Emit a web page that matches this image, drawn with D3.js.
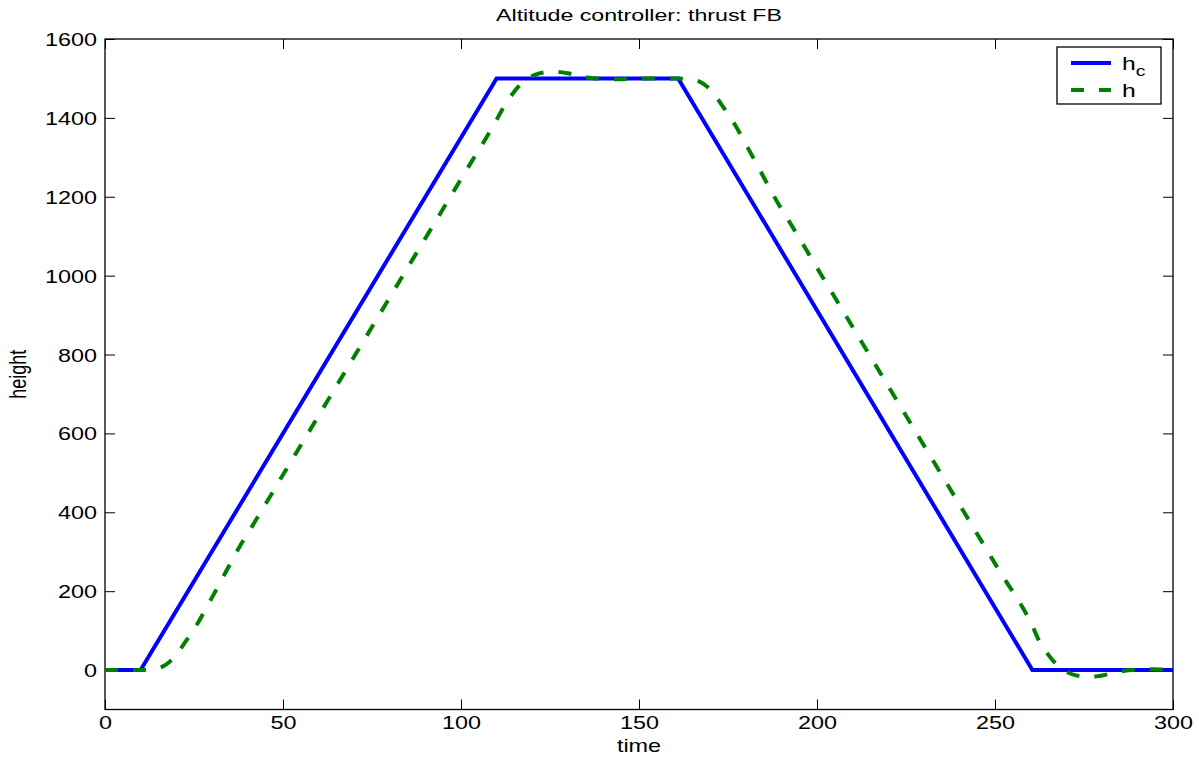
<!DOCTYPE html>
<html>
<head>
<meta charset="utf-8">
<script src="https://cdn.jsdelivr.net/npm/d3@7"></script>
<style>
  html, body { margin: 0; padding: 0; background: #fff; }
  svg { display: block; }
  text { font-family: "Liberation Sans", Arial, Helvetica, sans-serif; fill: #000; }
</style>
</head>
<body>
<div id="chart"></div>
<script>
// ---- data ----
const title = "Altitude controller: thrust FB";
const xLabel = "time";
const yLabel = "height";
const xTicks = [0, 50, 100, 150, 200, 250, 300];
const yTicks = [0, 200, 400, 600, 800, 1000, 1200, 1400, 1600];

// commanded height h_c
const hcTime  = [0, 10, 110, 161, 260.5, 300];
const hcValue = [0, 0, 1500, 1500, 0, 0];

// actual height h
const hTime = [
  0, 10, 12, 14, 16, 18, 20, 22, 24, 26, 28, 30, 32, 34, 36, 38, 40,
  50, 60, 70, 80, 90, 100, 110,
  112, 114, 116, 118, 120, 122, 124, 126, 128, 130, 132, 134, 136, 138, 140, 144, 148, 152, 161,
  163, 165, 167, 169, 171, 173, 175, 177, 179, 181, 183, 185, 187, 189, 191,
  201, 211, 221, 231, 241, 251, 260.5,
  262.5, 264.5, 266.5, 268.5, 270.5, 272.5, 274.5, 276.5, 278.5, 280.5, 282.5, 284.5, 286.5, 288.5, 290.5, 294.5, 298.5, 300
];
const hValue = [
  0, 0, 1, 3, 8, 20, 38, 64, 90, 118, 150, 183, 216, 250, 283, 316, 345,
  495, 645, 795, 945, 1095, 1245, 1395,
  1428, 1455, 1478, 1494, 1506, 1513, 1516, 1517, 1516, 1513, 1509, 1505, 1502, 1500, 1499, 1498, 1499, 1500, 1500,
  1499, 1497, 1492, 1480, 1462, 1436, 1410, 1382, 1350, 1317, 1284, 1250, 1217, 1184, 1155,
  1005, 855, 705, 555, 405, 255, 112,
  72, 45, 22, 6, -6, -13, -16, -17, -16, -13, -9, -5, -2, 0, 1, 2, 1, 1
];

const legendLabels = ["h", "h"];
const legendSubs = ["c", ""];

// ---- layout ----
const W = 1199, H = 761;
const mLeft = 105, mRight = 1173, mTop = 39, mBottom = 709.5;
const SX = 1.3;   // horizontal stretch of the reference's lettering

const svg = d3.select("#chart").append("svg")
  .attr("width", W).attr("height", H);

const x = d3.scaleLinear().domain([0, 300]).range([mLeft, mRight]);
const y = d3.scaleLinear().domain([-100, 1600]).range([mBottom, mTop]);

svg.append("clipPath").attr("id", "clip")
  .append("rect").attr("x", mLeft).attr("y", mTop)
  .attr("width", mRight - mLeft).attr("height", mBottom - mTop);

const tickLen = 10;

const xAxisB = d3.axisBottom(x).tickValues(xTicks).tickSize(-tickLen).tickFormat(d3.format("d"));
const xAxisT = d3.axisTop(x).tickValues(xTicks).tickSize(-tickLen).tickFormat("");
const yAxisL = d3.axisLeft(y).tickValues(yTicks).tickSize(-tickLen).tickFormat(d3.format("d"));
const yAxisR = d3.axisRight(y).tickValues(yTicks).tickSize(-tickLen).tickFormat("");

function styleAxis(g) {
  g.select(".domain").remove();
  g.selectAll(".tick line").attr("stroke", "#000").attr("stroke-width", 1);
  g.selectAll(".tick text").attr("font-size", 18).attr("fill", "#000")
    .style("font-family", "'Liberation Sans', Arial, Helvetica, sans-serif");
}

const gxb = svg.append("g").attr("transform", `translate(0,${mBottom})`).call(xAxisB).call(styleAxis);
gxb.selectAll(".tick text")
  .attr("x", 0).attr("y", 0).attr("dy", null)
  .attr("text-anchor", "middle")
  .attr("transform", `translate(0,19) scale(${SX},1)`);
svg.append("g").attr("transform", `translate(0,${mTop})`).call(xAxisT).call(styleAxis);
const gyl = svg.append("g").attr("transform", `translate(${mLeft},0)`).call(yAxisL).call(styleAxis);
gyl.selectAll(".tick text")
  .attr("x", 0).attr("dy", null).attr("y", 0)
  .attr("text-anchor", "end")
  .attr("transform", `translate(-8,6.5) scale(${SX},1)`);
svg.append("g").attr("transform", `translate(${mRight},0)`).call(yAxisR).call(styleAxis);

// box
svg.append("rect")
  .attr("x", mLeft).attr("y", mTop)
  .attr("width", mRight - mLeft).attr("height", mBottom - mTop)
  .attr("fill", "none").attr("stroke", "#000").attr("stroke-width", 1.3);

// lines
const line = d3.line().x(d => x(d[0])).y(d => y(d[1]));
const hcData = hcTime.map((t, i) => [t, hcValue[i]]);
const hData = hTime.map((t, i) => [t, hValue[i]]);

const plot = svg.append("g").attr("clip-path", "url(#clip)");
plot.append("path").datum(hcData).attr("d", line)
  .attr("fill", "none").attr("stroke", "#0000ff").attr("stroke-width", 4)
  .attr("stroke-linejoin", "miter");
plot.append("path").datum(hData).attr("d", d3.line().x(d => x(d[0])).y(d => y(d[1])).curve(d3.curveMonotoneX))
  .attr("fill", "none").attr("stroke", "#008000").attr("stroke-width", 4)
  .attr("stroke-dasharray", "13,15");

// title and labels
svg.append("text").attr("transform", `translate(${(mLeft + mRight) / 2},21) scale(1.45,1)`)
  .attr("text-anchor", "middle").attr("font-size", 16).text(title);
svg.append("text").attr("transform", `translate(${(mLeft + mRight) / 2},752) scale(${SX},1)`)
  .attr("text-anchor", "middle").attr("font-size", 18).text(xLabel);
svg.append("text").attr("transform", `translate(26,${(mTop + mBottom) / 2}) scale(${SX},1) rotate(-90)`)
  .attr("text-anchor", "middle").attr("font-size", 18).text(yLabel);

// legend
const lg = svg.append("g");
lg.append("rect").attr("x", 1057).attr("y", 47).attr("width", 104).attr("height", 57)
  .attr("fill", "#fff").attr("stroke", "#000").attr("stroke-width", 1.3);
const legColors = ["#0000ff", "#008000"];
const legDash = [null, "13,15"];
const legY = [63, 90];
legendLabels.forEach((lab, i) => {
  lg.append("line").attr("x1", 1071).attr("x2", 1111).attr("y1", legY[i]).attr("y2", legY[i])
    .attr("stroke", legColors[i]).attr("stroke-width", 4)
    .attr("stroke-dasharray", legDash[i]);
  const t = lg.append("text").attr("transform", `translate(1122,${legY[i] + 7}) scale(${SX},1)`)
    .attr("font-size", 19).text(lab);
  if (legendSubs[i]) {
    t.append("tspan").attr("dy", 6).attr("font-size", 15).text(legendSubs[i]);
  }
});
</script>
</body>
</html>
